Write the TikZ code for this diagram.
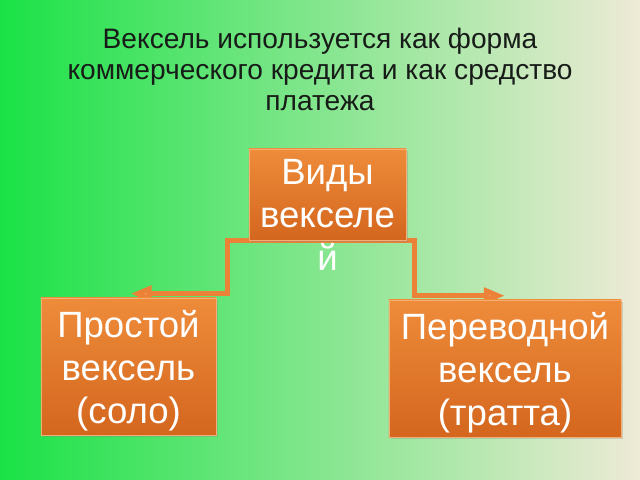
\documentclass[tikz,border=0pt]{standalone}
\usepackage{fontspec}
\setmainfont{Liberation Sans}
\usetikzlibrary{arrows.meta,shadows}

\definecolor{bgleft}{RGB}{26,226,70}
\definecolor{bgmid}{RGB}{128,228,138}
\definecolor{bgright}{RGB}{238,234,214}
\definecolor{boxtop}{RGB}{238,140,58}
\definecolor{boxbot}{RGB}{212,102,30}
\definecolor{linkcol}{RGB}{236,130,56}
\definecolor{titlecol}{RGB}{24,28,24}

\pgfdeclarelayer{back}
\pgfdeclarelayer{links}
\pgfsetlayers{back,links,main}

\begin{document}
\begin{tikzpicture}[x=0.025cm,y=-0.025cm]
       \tikzset{kind/.style={rectangle, top color=boxtop, bottom color=boxbot,
                draw=boxtop!70!white, line width=0.4pt,
                drop shadow={opacity=0.3, shadow xshift=1.2pt, shadow yshift=-1.2pt},
                inner sep=0pt}}

       \tikzset{kindtext/.style={text=white, align=center, inner sep=0pt,
                font=\fontsize{26}{30.5}\selectfont}}

       \tikzset{link/.style={draw=linkcol, line width=3.5pt,
                -{Triangle[length=15pt,width=11pt,fill=linkcol!75!white]}}}

        \useasboundingbox (0,0) rectangle (640,480);
        \begin{pgfonlayer}{back}
          \fill[left color=bgleft, middle color=bgmid, right color=bgright] (0,0) rectangle (640,480);
        \end{pgfonlayer}

        \node[font=\fontsize{20}{22}\selectfont, text=titlecol, align=center] (title) at (320,69.5)
             {Вексель используется как форма\\коммерческого кредита и как средство\\платежа};

        \node[kind, minimum width=3.925cm, minimum height=2.275cm] (types) at (327.5,194.5) {};
        \node[kind, minimum width=4.375cm, minimum height=3.425cm] (simple) at (128.5,366.5) {};
        \node[kind, minimum width=5.8cm, minimum height=3.425cm] (transfer) at (505,368.5) {};

        \node[kindtext] (typestext) at (327.5,215) {Виды\\векселе\\й};
        \node[kindtext] (simpletext) at (128.5,370.5) {Простой\\вексель\\(соло)};
        \node[kindtext] (transfertext) at (505,372.5) {Переводной\\вексель\\(тратта)};

        \begin{pgfonlayer}{links}
          \draw[link] (types.south) -- ++(-100,0) |- ([shift={(2,-4)}]simple.north);
          \draw[link] (types.south) -- ++(87,0) |- ([shift={(0,-4)}]transfer.north);
        \end{pgfonlayer}

\end{tikzpicture}
\end{document}
